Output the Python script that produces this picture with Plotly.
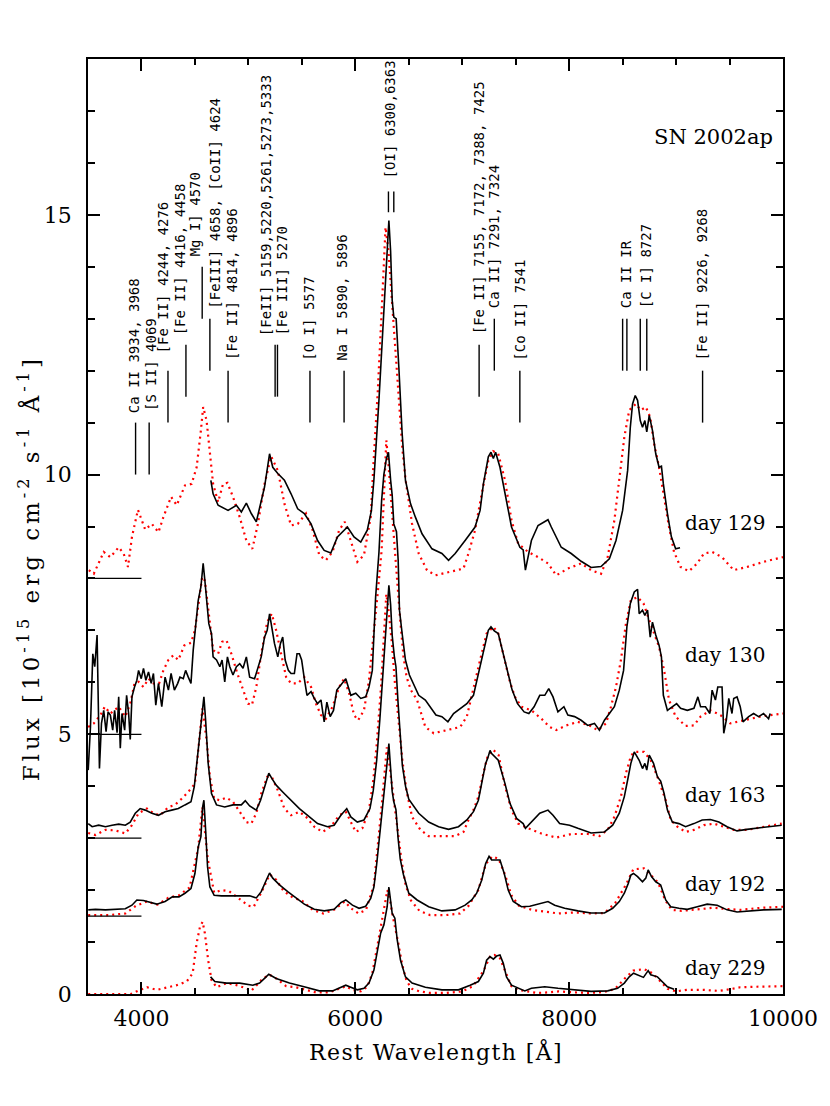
import plotly.graph_objects as go

# ---- day 129 (offset 8) ----
w129_obs = [4649, 4670, 4717, 4810, 4888, 4934, 4981, 5027, 5074, 5151, 5198, 5228, 5275, 5337, 5399,
            5461, 5523, 5586, 5647, 5709, 5771, 5833, 5926, 5988, 6051, 6112, 6150, 6174, 6221, 6252,
            6277, 6298, 6314, 6330, 6345, 6360, 6382, 6407, 6438, 6469, 6516, 6562, 6624, 6717, 6810,
            6872, 6934, 7027, 7120, 7167, 7198, 7244, 7269, 7291, 7312, 7353, 7400, 7461, 7539, 7570,
            7591, 7616, 7647, 7709, 7772, 7802, 7833, 7926, 8019, 8112, 8205, 8298, 8376, 8438, 8500,
            8547, 8572, 8593, 8618, 8640, 8665, 8686, 8708, 8726, 8749, 8779, 8810, 8841, 8863, 8881,
            8919, 8956, 8996, 9037]
f129_obs = [9.89, 9.63, 9.41, 9.31, 9.41, 9.28, 9.45, 9.25, 9.09, 9.76, 10.40, 10.14, 10.02, 9.89, 9.63,
            9.34, 9.25, 9.05, 8.73, 8.54, 8.49, 8.80, 8.99, 8.80, 8.70, 8.93, 9.30, 9.90, 11.43, 12.58,
            13.35, 14.31, 14.89, 14.31, 13.35, 13.03, 13.00, 12.07, 10.79, 9.89, 9.44, 9.18, 8.86, 8.57, 8.48,
            8.35, 8.48, 8.73, 8.99, 9.31, 9.82, 10.34, 10.43, 10.31, 10.43, 10.14, 9.63, 8.99, 8.60, 8.55,
            8.16, 8.41, 8.73, 9.02, 9.09, 9.13, 8.99, 8.60, 8.48, 8.33, 8.21, 8.23, 8.38, 8.73, 9.31,
            10.08, 10.91, 11.36, 11.52, 11.43, 11.04, 10.91, 11.04, 10.82, 11.14, 10.85, 10.40, 10.14, 10.16, 9.82,
            9.25, 8.80, 8.57, 8.59]
w129_mod = [3508, 3554, 3647, 3709, 3787, 3833, 3874, 3911, 3967, 4035, 4097, 4159, 4205, 4277, 4330,
            4407, 4469, 4516, 4556, 4577, 4609, 4640, 4670, 4717, 4763, 4804, 4856, 4919, 4981, 5037,
            5089, 5151, 5213, 5275, 5337, 5399, 5461, 5539, 5601, 5663, 5725, 5787, 5849, 5902, 5958,
            6019, 6081, 6144, 6168, 6210, 6250, 6283, 6310, 6340, 6370, 6400, 6440, 6470, 6500, 6531,
            6593, 6670, 6749, 6872, 7012, 7058, 7120, 7182, 7244, 7290, 7337, 7400, 7461, 7523, 7616,
            7709, 7802, 7879, 7988, 8112, 8205, 8298, 8360, 8423, 8469, 8516, 8562, 8624, 8670, 8717,
            8757, 8795, 8841, 8888, 8934, 8981, 9042, 9120, 9198, 9260, 9337, 9430, 9539, 9663, 9818, 10000]
f129_mod = [8.16, 8.09, 8.51, 8.41, 8.60, 8.48, 8.22, 8.80, 9.32, 8.94, 9.05, 8.89, 9.18, 9.57, 9.41,
            9.79, 9.82, 10.14, 10.85, 11.30, 11.04, 10.40, 9.82, 9.47, 9.82, 9.84, 9.57, 9.18, 8.73, 8.57,
            9.05, 9.82, 10.35, 10.08, 9.44, 9.02, 9.05, 9.25, 8.93, 8.45, 8.35, 8.51, 8.93, 9.09, 8.73,
            8.32, 8.45, 9.18, 10.14, 11.60, 13.30, 14.76, 14.30, 13.40, 12.60, 11.60, 10.50, 9.90, 9.50, 9.05,
            8.48, 8.16, 8.06, 8.12, 8.19, 8.48, 8.93, 9.63, 10.27, 10.45, 10.40, 9.89, 9.12, 8.67, 8.51,
            8.41, 8.29, 8.06, 8.19, 8.29, 8.16, 8.09, 8.41, 9.12, 9.89, 10.72, 11.24, 11.36, 11.24, 11.30,
            11.11, 10.59, 10.14, 9.57, 8.99, 8.51, 8.22, 8.14, 8.29, 8.48, 8.51, 8.41, 8.16, 8.22, 8.32, 8.41]

# ---- day 130 (offset 5) ----
w130_obs = [3502, 3523, 3545, 3563, 3585, 3595, 3607, 3626, 3647, 3669, 3688, 3709, 3731, 3749, 3772,
            3787, 3802, 3818, 3843, 3861, 3880, 3895, 3911, 3935, 3957, 3973, 3998, 4019, 4041, 4066,
            4091, 4112, 4134, 4159, 4190, 4221, 4252, 4277, 4308, 4339, 4360, 4391, 4413, 4438, 4463,
            4484, 4507, 4531, 4556, 4577, 4593, 4609, 4630, 4655, 4670, 4702, 4733, 4754, 4779, 4804,
            4826, 4856, 4888, 4919, 4950, 4981, 5012, 5058, 5089, 5120, 5151, 5176, 5198, 5219, 5244,
            5275, 5300, 5321, 5344, 5374, 5399, 5430, 5455, 5477, 5498, 5523, 5548, 5586, 5616, 5647,
            5679, 5709, 5734, 5765, 5796, 5827, 5865, 5911, 5958, 6004, 6051, 6097, 6128, 6159, 6190,
            6221, 6246, 6267, 6290, 6310, 6330, 6345, 6360, 6385, 6401, 6413, 6438, 6469, 6506, 6547,
            6593, 6655, 6702, 6754, 6810, 6866, 6919, 6981, 7043, 7105, 7151, 7198, 7244, 7269, 7300,
            7337, 7384, 7424, 7467, 7517, 7579, 7623, 7672, 7725, 7772, 7809, 7849, 7895, 7951, 7988,
            8051, 8112, 8174, 8237, 8283, 8330, 8376, 8423, 8469, 8509, 8540, 8572, 8609, 8640, 8655,
            8686, 8708, 8733, 8758, 8779, 8810, 8841, 8863, 8881, 8919, 8965, 9005, 9042, 9105, 9167,
            9204, 9229, 9275, 9316, 9337, 9368, 9390, 9430, 9446, 9470, 9493, 9523, 9539, 9570, 9600,
            9626, 9679, 9725, 9772, 9818, 9865, 9880]
f130_obs = [4.31, 5.14, 6.55, 6.30, 6.91, 5.34, 4.34, 5.21, 5.46, 5.05, 5.43, 5.37, 5.08, 5.46, 5.03,
            5.72, 4.73, 5.40, 5.08, 5.75, 5.40, 4.90, 5.72, 5.91, 6.04, 6.23, 6.07, 6.27, 6.04, 6.20,
            5.98, 6.17, 5.56, 5.98, 5.53, 6.10, 5.85, 6.17, 5.85, 5.98, 6.10, 6.07, 6.23, 6.10, 5.98,
            6.62, 7.07, 7.58, 7.84, 8.29, 7.96, 7.64, 7.13, 6.94, 6.49, 6.43, 6.30, 6.43, 6.01, 6.49,
            6.30, 6.14, 6.30, 6.36, 6.27, 6.49, 6.10, 6.07, 6.27, 6.49, 6.87, 7.00, 7.32, 7.07, 6.75,
            6.49, 6.75, 6.87, 6.43, 6.23, 6.17, 6.17, 6.55, 6.55, 6.43, 6.07, 5.75, 5.82, 5.69, 5.59,
            5.66, 5.24, 5.62, 5.34, 5.46, 5.85, 5.94, 6.07, 5.75, 5.79, 5.69, 5.72, 5.91, 6.23, 7.64,
            8.50, 9.50, 10.00, 10.30, 10.43, 9.90, 9.60, 9.05, 8.90, 8.35, 7.39, 6.94, 6.43, 6.14, 5.94,
            5.75, 5.66, 5.53, 5.37, 5.34, 5.24, 5.40, 5.50, 5.59, 5.75, 6.17, 6.62, 7.00, 7.07, 6.99,
            6.94, 6.55, 6.17, 5.85, 5.59, 5.43, 5.40, 5.53, 5.75, 5.75, 5.88, 5.72, 5.43, 5.53, 5.37,
            5.34, 5.27, 5.17, 5.21, 5.08, 5.27, 5.40, 5.53, 5.85, 6.23, 7.07, 7.52, 7.74, 7.79, 7.32,
            7.39, 7.29, 7.39, 6.87, 7.16, 6.91, 6.71, 6.49, 5.75, 5.46, 5.53, 5.59, 5.50, 5.46, 5.50,
            5.72, 5.53, 5.53, 5.40, 5.85, 5.66, 5.91, 5.91, 5.02, 5.27, 5.69, 5.40, 5.69, 5.72, 5.53,
            5.24, 5.34, 5.40, 5.34, 5.40, 5.30, 5.40]
w130_mod = [3502, 3554, 3616, 3657, 3709, 3787, 3849, 3895, 3935, 3973, 4019, 4066, 4112, 4165, 4205,
            4252, 4298, 4345, 4401, 4463, 4500, 4537, 4568, 4593, 4618, 4640, 4670, 4717, 4754, 4795,
            4841, 4897, 4950, 4996, 5033, 5074, 5120, 5176, 5219, 5260, 5306, 5353, 5399, 5461, 5523,
            5586, 5632, 5679, 5725, 5787, 5849, 5895, 5942, 5988, 6026, 6081, 6128, 6174, 6212, 6246,
            6270, 6290, 6310, 6330, 6360, 6390, 6420, 6450, 6480, 6520, 6578, 6655, 6733, 6872, 6981,
            7043, 7105, 7167, 7228, 7291, 7337, 7400, 7446, 7493, 7554, 7647, 7740, 7818, 7879, 7972,
            8081, 8190, 8267, 8345, 8391, 8438, 8484, 8531, 8577, 8640, 8695, 8749, 8795, 8841, 8888,
            8934, 8996, 9089, 9167, 9229, 9321, 9415, 9507, 9632, 9787, 10000]
f130_mod = [5.14, 5.21, 5.37, 5.53, 5.40, 5.53, 5.34, 5.59, 5.98, 6.01, 5.91, 6.07, 5.98, 5.98, 6.23,
            6.43, 6.52, 6.43, 6.71, 6.76, 7.00, 7.58, 8.03, 7.96, 7.52, 7.07, 6.62, 6.55, 6.78, 6.81,
            6.55, 6.17, 5.85, 5.59, 5.56, 5.91, 6.55, 7.16, 7.32, 7.00, 6.55, 6.10, 5.98, 5.98, 6.10,
            5.91, 5.59, 5.37, 5.30, 5.53, 5.91, 6.07, 5.79, 5.37, 5.27, 5.46, 6.04, 6.94, 7.77, 8.54,
            9.80, 10.66, 10.20, 9.60, 8.80, 8.00, 7.20, 6.50, 6.10, 5.85, 5.66, 5.14, 5.02, 5.08, 5.14,
            5.34, 5.91, 6.43, 6.94, 7.07, 6.94, 6.43, 6.01, 5.72, 5.53, 5.46, 5.30, 5.14, 5.08, 5.17,
            5.24, 5.17, 5.08, 5.21, 5.53, 5.91, 6.43, 7.13, 7.58, 7.64, 7.52, 7.20, 6.94, 6.68, 6.23,
            5.66, 5.34, 5.16, 5.17, 5.34, 5.46, 5.37, 5.21, 5.27, 5.34, 5.40]

# ---- day 163 (offset 3) ----
w163_obs = [3502, 3539, 3600, 3663, 3725, 3787, 3849, 3895, 3942, 3988, 4035, 4097, 4159, 4221, 4283,
            4345, 4407, 4463, 4494, 4525, 4547, 4568, 4584, 4600, 4624, 4655, 4702, 4779, 4856, 4934,
            4971, 5012, 5074, 5114, 5151, 5191, 5219, 5260, 5321, 5399, 5477, 5554, 5647, 5740, 5802,
            5865, 5920, 5958, 6019, 6081, 6137, 6168, 6200, 6230, 6260, 6280, 6300, 6314, 6330, 6345,
            6365, 6380, 6400, 6420, 6440, 6470, 6500, 6593, 6686, 6779, 6872, 6965, 7043, 7105, 7151,
            7188, 7219, 7240, 7260, 7275, 7306, 7337, 7400, 7446, 7508, 7570, 7591, 7647, 7725, 7802,
            7849, 7911, 8004, 8081, 8205, 8330, 8407, 8469, 8516, 8547, 8577, 8609, 8655, 8686, 8708,
            8726, 8749, 8789, 8826, 8856, 8888, 8919, 8965, 9027, 9089, 9167, 9244, 9321, 9400, 9477,
            9570, 9663, 9756, 9849, 9988]
f163_obs = [3.28, 3.22, 3.25, 3.22, 3.25, 3.27, 3.25, 3.31, 3.48, 3.57, 3.54, 3.48, 3.44, 3.51, 3.54,
            3.57, 3.64, 3.70, 3.99, 4.63, 5.02, 5.46, 5.72, 5.27, 4.44, 3.86, 3.64, 3.60, 3.64, 3.64,
            3.72, 3.62, 3.54, 3.73, 3.96, 4.25, 4.15, 4.02, 3.89, 3.73, 3.57, 3.44, 3.28, 3.22, 3.25,
            3.44, 3.57, 3.41, 3.31, 3.35, 3.57, 3.92, 4.50, 5.30, 6.20, 6.90, 7.60, 7.87, 7.50, 6.90,
            6.50, 6.30, 5.60, 4.90, 4.40, 4.00, 3.75, 3.48, 3.31, 3.22, 3.17, 3.22, 3.35, 3.51, 3.73,
            4.12, 4.44, 4.55, 4.69, 4.63, 4.57, 4.50, 4.05, 3.67, 3.38, 3.28, 3.19, 3.31, 3.48, 3.54,
            3.44, 3.28, 3.25, 3.19, 3.10, 3.12, 3.25, 3.48, 3.80, 4.12, 4.44, 4.66, 4.50, 4.34, 4.44,
            4.31, 4.60, 4.44, 4.18, 4.10, 3.86, 3.54, 3.31, 3.28, 3.22, 3.28, 3.35, 3.36, 3.31, 3.22,
            3.14, 3.17, 3.19, 3.22, 3.25]
w163_mod = [3502, 3570, 3663, 3756, 3849, 3911, 3973, 4051, 4112, 4174, 4252, 4314, 4376, 4438, 4500,
            4537, 4570, 4609, 4640, 4680, 4733, 4795, 4856, 4919, 4981, 5027, 5074, 5120, 5176, 5219,
            5275, 5337, 5399, 5477, 5539, 5616, 5694, 5771, 5849, 5911, 5958, 6004, 6066, 6128, 6168,
            6200, 6240, 6270, 6290, 6310, 6340, 6370, 6400, 6440, 6480, 6531, 6609, 6686, 6810, 6934,
            7012, 7058, 7105, 7151, 7198, 7240, 7290, 7340, 7400, 7461, 7523, 7616, 7740, 7879, 8019,
            8174, 8283, 8360, 8423, 8484, 8531, 8580, 8620, 8700, 8763, 8826, 8903, 8950, 9012, 9089,
            9167, 9260, 9353, 9446, 9539, 9663, 9818, 9988]
f163_mod = [3.10, 3.06, 3.16, 3.15, 3.09, 3.25, 3.48, 3.57, 3.48, 3.44, 3.60, 3.64, 3.76, 3.89, 4.05,
            4.76, 5.50, 4.89, 4.18, 3.76, 3.73, 3.78, 3.70, 3.51, 3.31, 3.28, 3.48, 3.86, 4.18, 4.18,
            3.92, 3.57, 3.44, 3.51, 3.41, 3.22, 3.12, 3.22, 3.44, 3.51, 3.31, 3.12, 3.19, 3.54, 4.12,
            4.80, 5.90, 6.90, 7.70, 7.40, 6.80, 6.00, 5.30, 4.50, 3.90, 3.41, 3.16, 3.04, 3.04, 3.04,
            3.12, 3.35, 3.54, 3.80, 4.25, 4.60, 4.70, 4.60, 4.00, 3.54, 3.28, 3.19, 3.09, 3.01, 3.08,
            3.08, 3.04, 3.16, 3.41, 3.80, 4.25, 4.60, 4.66, 4.66, 4.50, 4.18, 3.73, 3.35, 3.22, 3.12,
            3.16, 3.25, 3.28, 3.22, 3.16, 3.16, 3.22, 3.28]

# ---- day 192 (offset 1.5) ----
w192_obs = [3502, 3570, 3663, 3756, 3849, 3911, 3957, 4019, 4081, 4143, 4221, 4289, 4351, 4407, 4463,
            4500, 4531, 4556, 4572, 4584, 4600, 4618, 4640, 4680, 4748, 4841, 4934, 5012, 5074, 5120,
            5167, 5198, 5228, 5291, 5368, 5446, 5523, 5616, 5709, 5802, 5865, 5911, 5973, 6035, 6097,
            6144, 6174, 6200, 6230, 6260, 6280, 6300, 6314, 6330, 6345, 6360, 6380, 6400, 6420, 6450,
            6500, 6578, 6686, 6810, 6934, 7027, 7089, 7135, 7182, 7219, 7251, 7275, 7306, 7353, 7393,
            7430, 7477, 7554, 7632, 7725, 7802, 7865, 7958, 8081, 8205, 8330, 8407, 8469, 8516, 8553,
            8577, 8602, 8640, 8686, 8717, 8739, 8770, 8810, 8856, 8903, 8950, 9027, 9105, 9198, 9291,
            9384, 9477, 9570, 9693, 9818, 9988]
f192_obs = [1.62, 1.63, 1.62, 1.63, 1.64, 1.71, 1.81, 1.80, 1.76, 1.73, 1.78, 1.87, 1.87, 1.94, 2.03,
            2.32, 2.83, 3.03, 3.60, 3.73, 3.16, 2.45, 2.06, 1.90, 1.89, 1.89, 1.90, 1.89, 1.85, 1.97,
            2.19, 2.33, 2.23, 2.10, 1.97, 1.84, 1.73, 1.63, 1.60, 1.63, 1.76, 1.81, 1.71, 1.65, 1.69,
            1.84, 2.06, 2.50, 3.10, 3.60, 4.00, 4.50, 4.82, 4.30, 3.90, 3.70, 3.55, 3.00, 2.60, 2.30,
            1.94, 1.81, 1.68, 1.60, 1.62, 1.71, 1.81, 1.94, 2.19, 2.51, 2.65, 2.58, 2.58, 2.58, 2.32,
            2.00, 1.78, 1.68, 1.69, 1.74, 1.78, 1.71, 1.65, 1.60, 1.56, 1.56, 1.65, 1.78, 1.94, 2.13,
            2.29, 2.32, 2.26, 2.16, 2.23, 2.39, 2.26, 2.16, 2.10, 1.81, 1.68, 1.65, 1.63, 1.68, 1.73,
            1.71, 1.62, 1.58, 1.60, 1.62, 1.63]
w192_mod = [3502, 3700, 3850, 3950, 4050, 4150, 4250, 4350, 4450, 4530, 4570, 4620, 4680, 4750, 4820,
            4900, 5000, 5050, 5120, 5200, 5260, 5330, 5420, 5500, 5600, 5700, 5800, 5900, 5960, 6030,
            6100, 6174, 6210, 6250, 6280, 6295, 6320, 6350, 6390, 6430, 6470, 6520, 6600, 6700, 6850,
            6980, 7060, 7150, 7220, 7280, 7340, 7400, 7460, 7530, 7650, 7800, 7900, 8050, 8200, 8330,
            8430, 8530, 8600, 8700, 8760, 8830, 8900, 8960, 9050, 9200, 9350, 9450, 9600, 9800, 10000]
f192_mod = [1.52, 1.52, 1.55, 1.70, 1.78, 1.72, 1.85, 1.90, 2.05, 2.80, 3.60, 2.60, 1.95, 2.00, 1.98,
            1.85, 1.70, 1.68, 1.95, 2.30, 2.20, 1.98, 1.85, 1.80, 1.62, 1.55, 1.62, 1.78, 1.65, 1.55,
            1.62, 2.10, 2.80, 3.70, 4.40, 4.75, 4.40, 3.90, 3.30, 2.60, 2.10, 1.80, 1.60, 1.52, 1.52,
            1.55, 1.70, 2.00, 2.50, 2.65, 2.60, 2.30, 1.90, 1.70, 1.62, 1.58, 1.55, 1.57, 1.55, 1.56,
            1.75, 2.10, 2.40, 2.42, 2.30, 2.15, 1.80, 1.62, 1.60, 1.63, 1.66, 1.64, 1.62, 1.66, 1.68]

# ---- day 229 (offset 0) ----
w229_obs = [4646, 4686, 4795, 4919, 5042, 5105, 5151, 5191, 5260, 5384, 5539, 5663, 5787, 5849, 5911,
            5958, 6019, 6081, 6128, 6174, 6205, 6237, 6267, 6298, 6314, 6345, 6370, 6392, 6423, 6469,
            6531, 6655, 6810, 6965, 7074, 7151, 7198, 7228, 7260, 7291, 7322, 7353, 7384, 7414, 7461,
            7523, 7585, 7647, 7772, 7895, 8051, 8205, 8360, 8453, 8516, 8562, 8602, 8640, 8695, 8739,
            8763, 8826, 8872, 8919, 8981]
f229_obs = [0.33, 0.24, 0.21, 0.21, 0.17, 0.21, 0.30, 0.38, 0.30, 0.21, 0.13, 0.06, 0.06, 0.11, 0.17,
            0.13, 0.08, 0.11, 0.21, 0.46, 0.85, 1.17, 1.33, 1.68, 2.06, 1.55, 1.46, 1.04, 0.65, 0.33,
            0.21, 0.13, 0.08, 0.08, 0.17, 0.24, 0.40, 0.65, 0.72, 0.67, 0.73, 0.75, 0.59, 0.33, 0.17,
            0.11, 0.06, 0.11, 0.14, 0.11, 0.08, 0.05, 0.06, 0.11, 0.21, 0.33, 0.40, 0.37, 0.32, 0.45,
            0.37, 0.33, 0.24, 0.14, 0.09]
w229_mod = [3502, 3700, 3900, 3988, 4051, 4144, 4237, 4330, 4423, 4479, 4516, 4547, 4572, 4593, 4624,
            4655, 4702, 4795, 4888, 4981, 5027, 5074, 5136, 5198, 5260, 5353, 5446, 5539, 5632, 5756,
            5849, 5911, 5973, 6051, 6112, 6159, 6205, 6252, 6283, 6300, 6320, 6350, 6400, 6440, 6480,
            6530, 6600, 6700, 6850, 7000, 7100, 7200, 7260, 7300, 7350, 7400, 7460, 7520, 7600, 7700,
            7800, 7900, 8050, 8200, 8330, 8430, 8520, 8600, 8700, 8780, 8850, 8920, 9000, 9100, 9250,
            9400, 9500, 9600, 9756, 9900, 10000]
f229_mod = [0.00, 0.00, 0.00, 0.08, 0.13, 0.08, 0.13, 0.17, 0.24, 0.40, 0.98, 1.29, 1.39, 1.17, 0.65,
            0.27, 0.13, 0.21, 0.17, 0.11, 0.06, 0.17, 0.30, 0.37, 0.30, 0.15, 0.13, 0.08, 0.03, 0.03,
            0.11, 0.15, 0.08, 0.05, 0.14, 0.40, 0.91, 1.49, 1.81, 2.00, 1.85, 1.50, 1.00, 0.55, 0.25,
            0.10, 0.05, 0.02, 0.02, 0.05, 0.15, 0.45, 0.72, 0.75, 0.70, 0.45, 0.15, 0.08, 0.05, 0.02,
            0.03, 0.05, 0.03, 0.02, 0.04, 0.10, 0.30, 0.45, 0.48, 0.40, 0.25, 0.10, 0.05, 0.08, 0.08,
            0.06, 0.09, 0.13, 0.14, 0.15, 0.15]

# zero levels of the shifted spectra and labels
offsets = [8, 5, 3, 1.5]
epochs = ["day 129", "day 130", "day 163", "day 192", "day 229"]
epoch_y = [9.06, 6.52, 3.83, 2.12, 0.51]

# line identifications: wavelength, bottom and top of the tick mark
mark_wave = [3945, 4072, 4248, 4416, 4568, 4640, 4810, 5250, 5272, 5576, 5895, 6310, 6360,
             7158, 7300, 7539, 8500, 8540, 8665, 8726, 9248]
mark_lo = [10, 10, 11, 11.5, 13, 12, 11, 11.5, 11.5, 11, 11, 15.05, 15.05,
           11.5, 12, 11, 12, 12, 12, 12, 11]
mark_hi = [11, 11, 12, 12.5, 14, 13, 12, 12.5, 12.5, 12, 12, 15.45, 15.45,
           12.5, 13, 12, 13, 13, 13, 13, 12]
ident_text = ["Ca II 3934, 3968", "[S II] 4069", "[Fe II] 4244, 4276", "[Fe II] 4416, 4458",
              "Mg I] 4570", "[FeIII] 4658, [CoII] 4624", "[Fe II] 4814, 4896",
              "[FeII] 5159,5220,5261,5273,5333", "[Fe III] 5270", "[O I] 5577", "Na I 5890, 5896",
              "[OI] 6300,6363", "[Fe II] 7155, 7172, 7388, 7425", "Ca II] 7291, 7324",
              "[Co II] 7541", "Ca II IR", "[C I] 8727", "[Fe II] 9226, 9268"]
ident_x = [3933, 4091, 4200, 4360, 4509, 4686, 4853, 5167, 5316, 5570, 5880, 6323,
           7151, 7300, 7539, 8540, 8726, 9244]
ident_y = [11.14, 11.18, 12.29, 12.64, 14.16, 13.16, 12.16, 12.62, 12.64, 12.16, 12.16, 15.66,
           12.66, 13.16, 12.16, 13.16, 13.16, 12.16]

x_ticks = [4000, 6000, 8000, 10000]
x_ticktext = ["4000", "6000", "8000", "10000"]

SERIF = "DejaVu Serif"
MONO = "DejaVu Sans Mono"

fig = go.Figure()

obs = [(w129_obs, f129_obs), (w130_obs, f130_obs), (w163_obs, f163_obs),
       (w192_obs, f192_obs), (w229_obs, f229_obs)]
mod = [(w129_mod, f129_mod), (w130_mod, f130_mod), (w163_mod, f163_mod),
       (w192_mod, f192_mod), (w229_mod, f229_mod)]

for w, f in mod:
    fig.add_trace(go.Scatter(x=w, y=f, mode='lines',
                             line=dict(color='#ff0000', width=2.2, dash='2px,4px')))
for w, f in obs:
    fig.add_trace(go.Scatter(x=w, y=f, mode='lines', line=dict(color='black', width=1.6)))

# short zero-level bars at the blue end
for off in offsets:
    fig.add_trace(go.Scatter(x=[3500, 4000], y=[off, off], mode='lines',
                             line=dict(color='black', width=1.3)))

# identification ticks
mx, my = [], []
for w, lo, hi in zip(mark_wave, mark_lo, mark_hi):
    mx += [w, w, None]
    my += [lo, hi, None]
fig.add_trace(go.Scatter(x=mx, y=my, mode='lines', line=dict(color='black', width=1.4)))

for txt, x, y in zip(ident_text, ident_x, ident_y):
    fig.add_annotation(x=x, y=y, text=txt, showarrow=False, textangle=-90,
                       xanchor='center', yanchor='bottom',
                       font=dict(family=MONO, size=14, color='black'))

for txt, y in zip(epochs, epoch_y):
    fig.add_annotation(x=9858, y=y, text=txt, showarrow=False, xanchor='right', yanchor='middle',
                       font=dict(family=SERIF, size=20, color='black'))

fig.add_annotation(x=9923, y=16.49, text="SN 2002ap", showarrow=False, xanchor='right',
                   yanchor='middle', font=dict(family=SERIF, size=21, color='black'))

fig.add_annotation(x=0.5, y=-0.061, xref='paper', yref='paper',
                   text='<span style="letter-spacing:1.4px">Rest Wavelength [Å]</span>',
                   showarrow=False, xanchor='center', yanchor='middle',
                   font=dict(family=SERIF, size=22, color='black'))
fig.add_annotation(x=-0.0852, y=0.455, xref='paper', yref='paper', textangle=-90,
                   text='<span style="letter-spacing:4px">Flux [10<sup>-15</sup> erg cm<sup>-2</sup> '
                        's<sup>-1</sup> Å<sup>-1</sup>]</span>',
                   showarrow=False, xanchor='center', yanchor='middle',
                   font=dict(family=SERIF, size=23, color='black'))

axis_common = dict(showline=True, linecolor='black', linewidth=1.8, mirror='ticks',
                   ticks='inside', ticklen=12, tickwidth=1.5, tickcolor='black',
                   showgrid=False, zeroline=False,
                   tickfont=dict(family=SERIF, size=22, color='black'))

# the page body adds an 8px margin, so the figure is drawn 8px smaller
fig.update_layout(
    width=822, height=1090,
    margin=dict(l=79.5, r=44, t=51, b=104),
    paper_bgcolor='white', plot_bgcolor='white',
    showlegend=False,
    xaxis=dict(range=[3500, 10000], tickvals=x_ticks, ticktext=x_ticktext,
               minor=dict(dtick=500, ticks='inside', ticklen=6, tickwidth=1.5, tickcolor='black'),
               ticklabelstandoff=4, **axis_common),
    yaxis=dict(range=[0, 18], tickvals=[0, 5, 10, 15],
               minor=dict(dtick=1, ticks='inside', ticklen=7, tickwidth=1.5, tickcolor='black'),
               ticklabelstandoff=10, **axis_common),
)

fig.write_html("out.html")
